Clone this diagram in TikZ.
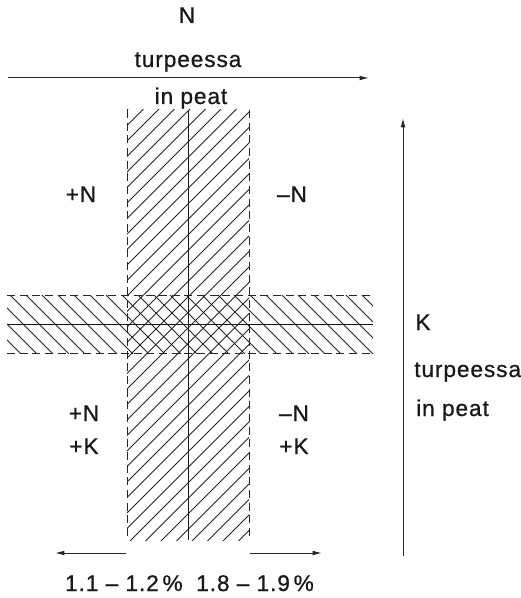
\documentclass[tikz,border=0pt]{standalone}
\usepackage{fontspec}
\setmainfont{Liberation Sans}[LetterSpace=4,FakeBold=0.8]
\usetikzlibrary{arrows.meta}
\tikzset{
  lbl/.style={anchor=base, inner sep=0pt, font=\fontsize{17}{20}\selectfont, text=black!90},
  hatch/.style={line width=0.7pt, draw=black!85},
  bandedge/.style={line width=0.75pt, draw=black!85, dash pattern=on 6pt off 3.5pt},
  midline/.style={line width=0.7pt, draw=black!90},
  axis/.style={line width=0.75pt, draw=black!85, -{Latex[length=7pt,width=3.5pt]}}
}
\begin{document}
\begin{tikzpicture}[x=0.75pt,y=-0.75pt]
\useasboundingbox (0,0) rectangle (520,598);
% vertical band hatching
\begin{scope}
  \clip (127,110) rectangle (249,540);
  \foreach \k in {0,...,36}
    \draw[hatch] (-173,410+15.5*\k) -- (427,-190+15.5*\k);
\end{scope}
% horizontal band hatching
\begin{scope}
  \clip (7,295) rectangle (373,353);
  \foreach \k in {-6,...,25}
    \draw[hatch] (10+16*\k-100,195) -- (10+16*\k+100,395);
\end{scope}
% band edges
\coordinate (vlt) at (127,110); \coordinate (vlb) at (127,540);
\coordinate (vrt) at (249,110); \coordinate (vrb) at (249,540);
\coordinate (vct) at (188,110); \coordinate (vcb) at (188,540);
\coordinate (htl) at (7,295);  \coordinate (htr) at (373,295);
\coordinate (hbl) at (7,353);  \coordinate (hbr) at (373,353);
\coordinate (hcl) at (7,324);  \coordinate (hcr) at (373,324);
\draw[bandedge] (vlt) -- (vlb);
\draw[bandedge] (vrt) -- (vrb);
\draw[bandedge] (htl) -- (htr);
\draw[bandedge] (hbl) -- (hbr);
\draw[midline] (vct) -- (vcb);
\draw[midline] (hcl) -- (hcr);
% axes
\coordinate (ta) at (8,78);   \coordinate (tb) at (369,78);
\coordinate (ra) at (403,556); \coordinate (rb) at (403,118);
\coordinate (bla) at (126,553); \coordinate (blb) at (55,553);
\coordinate (bra) at (250,553); \coordinate (brb) at (322,553);
\draw[axis] (ta) -- (tb);
\draw[axis] (ra) -- (rb);
\draw[axis] (bla) -- (blb);
\draw[axis] (bra) -- (brb);
% labels
\node[lbl] (nN) at (187,23) {N};
\node[lbl] (nT1) at (188,67) {turpeessa};
\node[lbl] (nP1) at (191,104) {in peat};
\node[lbl] (pN1) at (81,202) {+N};
\node[lbl] (mN1) at (292,202) {–N};
\node[lbl] (nK) at (423,330) {K};
\node[lbl, anchor=base west] (nT2) at (414,377) {turpeessa};
\node[lbl, anchor=base west] (nP2) at (416,416) {in peat};
\node[lbl] (pN2) at (84,421) {+N};
\node[lbl] (pK2) at (84,454) {+K};
\node[lbl] (mN2) at (294,421) {–N};
\node[lbl] (pK3) at (294,454) {+K};
\node[lbl, anchor=base east] (r1) at (183,591) {1.1 – 1.2\,\%};
\node[lbl, anchor=base west] (r2) at (196,591) {1.8 – 1.9\,\%};
\end{tikzpicture}
\end{document}
